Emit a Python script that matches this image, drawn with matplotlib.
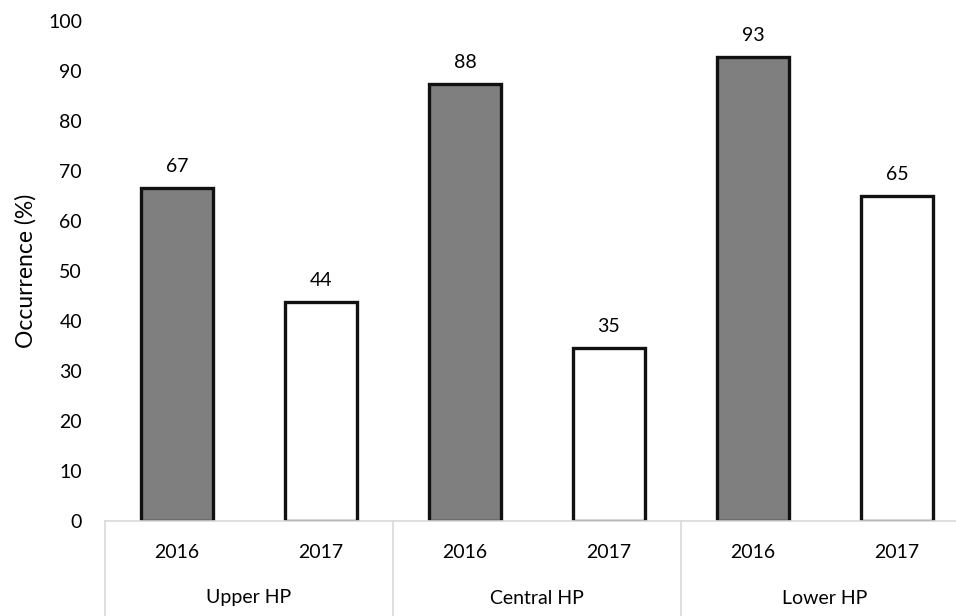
import matplotlib.pyplot as plt
import matplotlib.transforms as mtransforms
import numpy as np

plt.rcParams['font.family'] = ['Lato', 'DejaVu Sans']

groups = ['Upper HP', 'Central HP', 'Lower HP']
years = ['2016', '2017', '2016', '2017', '2016', '2017']
occurrence = [66.7, 43.8, 87.5, 34.7, 92.9, 65.0]
fills = ['#7f7f7f', 'white', '#7f7f7f', 'white', '#7f7f7f', 'white']

fig = plt.figure(figsize=(9.56, 6.16), dpi=100)
# axes run a bit past the right edge, as in the original
ax = fig.add_axes([105 / 956, 95 / 616, 864 / 956, 500 / 616])

x = np.arange(len(occurrence))
ax.bar(x, occurrence, width=0.5, color=fills, edgecolor='#111111', linewidth=2.4)

for xi, v in zip(x, occurrence):
    ax.annotate('%.0f' % v, (xi, v), xytext=(0, 9), textcoords='offset points',
                ha='center', va='bottom', fontsize=14)

ax.set_xlim(-0.5, 5.5)
ax.set_ylim(0, 100)
ax.set_yticks(np.arange(0, 101, 10))
ax.tick_params(axis='y', length=0, labelsize=14, pad=16.5)
ax.set_xticks([])
for s in ['top', 'right', 'left']:
    ax.spines[s].set_visible(False)
ax.spines['bottom'].set_color('#d9d9d9')
ax.spines['bottom'].set_linewidth(1.2)
ax.set_ylabel('Occurrence (%)', fontsize=16.5, labelpad=8)

trans = mtransforms.blended_transform_factory(ax.transData, ax.transAxes)
for xi, yr in zip(x, years):
    ax.text(xi, -0.064, yr, transform=trans, ha='center', va='center', fontsize=14)
for i, g in enumerate(groups):
    ax.text(2 * i + 0.5, -0.154, g, transform=trans, ha='center', va='center', fontsize=14)
for xd in [-0.5, 1.5, 3.5, 5.5]:
    ax.plot([xd, xd], [0, -0.2], transform=trans, color='#d9d9d9', lw=1.2, clip_on=False)

fig.savefig('out.png', dpi=100)
